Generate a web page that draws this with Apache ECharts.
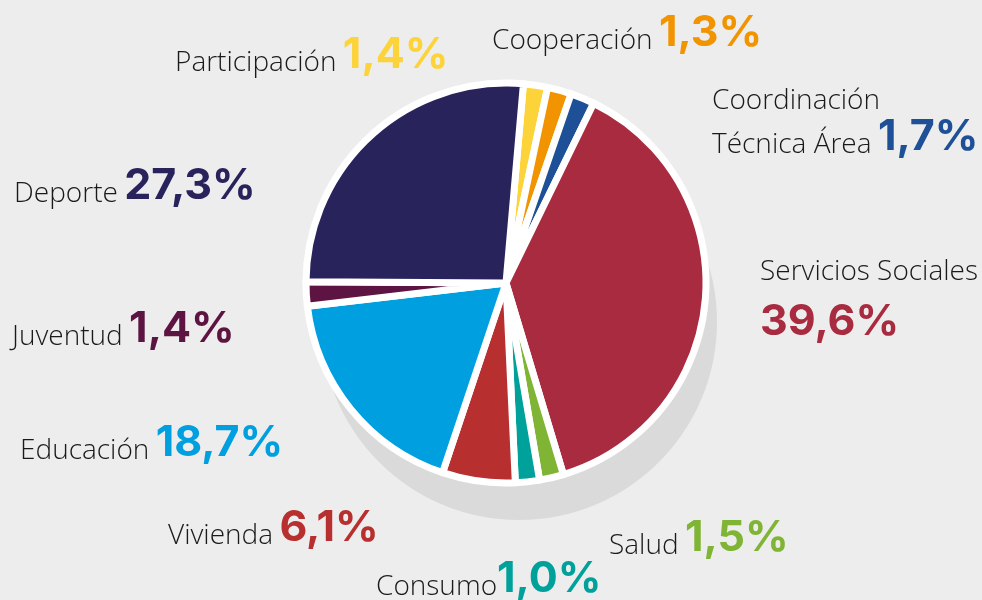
<!DOCTYPE html>
<html>
<head>
<meta charset="utf-8">
<script src="https://cdn.jsdelivr.net/npm/echarts@6/dist/echarts.min.js"></script>
<style>
  html, body { margin: 0; padding: 0; background: #ededed; }
  #main { width: 982px; height: 600px; }
</style>
</head>
<body>
<div id="main"></div>
<script>
// clockwise from the top
const categories = ['Participación', 'Cooperación', 'Coordinación\nTécnica Área', 'Servicios Sociales',
  'Salud', 'Consumo', 'Vivienda', 'Educación', 'Juventud', 'Deporte'];
const values = [1.4, 1.3, 1.7, 39.6, 1.5, 1.0, 6.1, 18.7, 1.4, 27.3];
const colors = ['#fdd33a', '#f29400', '#1d5096', '#a92b40', '#80b435', '#00a19a',
  '#b72f2e', '#009fe0', '#5d1442', '#29235c'];

// where each label block sits (left edge, vertical middle)
const labelPos = [
  [175, 55], [492, 33], [712, 121], [760, 299], [609, 538],
  [376, 579], [168, 528], [20, 443], [12, 329], [14, 186]
];

const chart = echarts.init(document.getElementById('main'));

function fmt(v) {
  return v.toFixed(1).replace('.', ',') + '%';
}

const pieData = categories.map((name, i) => {
  const sep = name === 'Consumo' ? '' : ' ';
  let text;
  if (name === 'Servicios Sociales') {
    text = '{n|' + name + '}\n{vt|' + fmt(values[i]) + '}';
  } else if (name.indexOf('\n') >= 0) {
    const parts = name.split('\n');
    text = '{n|' + parts[0] + '}\n{n|' + parts[1] + '}' + sep + '{v|' + fmt(values[i]) + '}';
  } else {
    text = '{n|' + name + '}' + sep + '{v|' + fmt(values[i]) + '}';
  }
  return {
    name: name,
    value: values[i],
    itemStyle: { color: colors[i] },
    label: {
      formatter: text,
      overflow: 'none',
      rich: {
        n: {
          fontFamily: 'Open Sans', fontWeight: 300, fontSize: 28,
          color: '#1a1a1a', lineHeight: 32, verticalAlign: 'bottom'
        },
        v: {
          fontFamily: 'Inter', fontWeight: 700, fontSize: 43,
          color: colors[i], lineHeight: 44, verticalAlign: 'bottom',
          padding: [0, 0, 0, sep ? 3 : 0]
        },
        vt: {
          fontFamily: 'Inter', fontWeight: 700, fontSize: 43,
          color: colors[i], lineHeight: 58, verticalAlign: 'bottom'
        }
      }
    }
  };
});

chart.setOption({
  backgroundColor: '#ededed',
  animation: false,
  series: [
    {
      // grey extrusion under the pie
      type: 'pie',
      silent: true,
      z: 1,
      center: [519, 322],
      radius: 198,
      label: { show: false },
      labelLine: { show: false },
      itemStyle: { color: '#dadada' },
      data: [{ value: 1 }]
    },
    {
      type: 'pie',
      z: 2,
      center: [506, 283],
      radius: 200,
      startAngle: 85,
      minAngle: 7,
      clockwise: true,
      itemStyle: { borderColor: '#ffffff', borderWidth: 7 },
      label: { show: true, position: 'outside', overflow: 'none' },
      labelLine: { show: false },
      labelLayout: function (params) {
        const p = labelPos[params.dataIndex];
        return { x: p[0], y: p[1], align: 'left', verticalAlign: 'middle' };
      },
      data: pieData
    }
  ]
});
</script>
</body>
</html>
